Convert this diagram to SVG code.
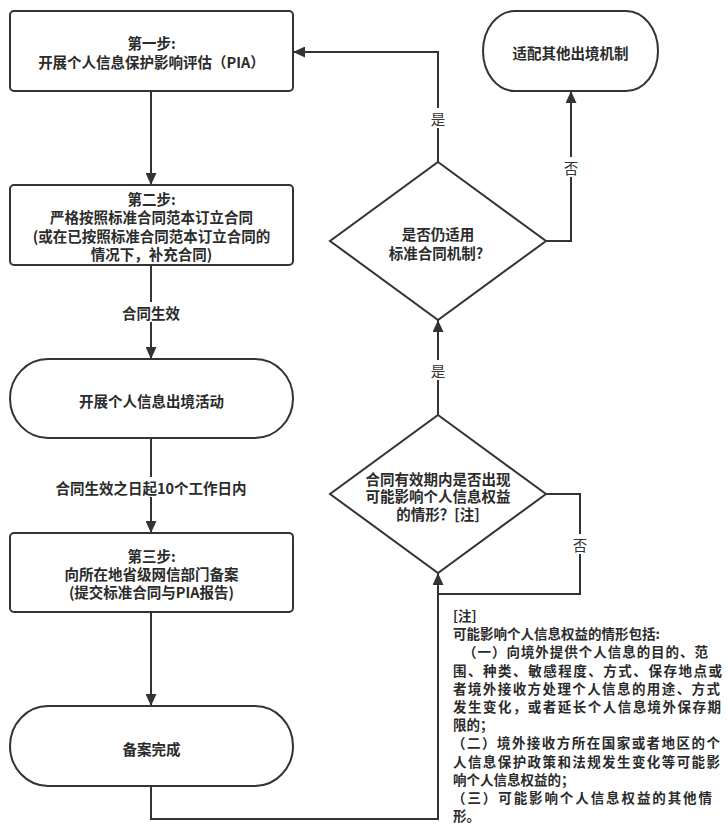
<svg xmlns="http://www.w3.org/2000/svg" width="728" height="829" viewBox="0 0 728 829">
<defs>
<style>
.n{fill:#fff;stroke:#333;stroke-width:2}
.c{fill:none;stroke:#333;stroke-width:2}
.t{font-family:"Noto Sans CJK SC","Microsoft YaHei",sans-serif;font-size:14.5px;font-weight:bold;fill:#2b2b2b;text-anchor:middle;dominant-baseline:central}
.l{font-family:"Noto Sans CJK SC","Microsoft YaHei",sans-serif;font-size:14.5px;font-weight:normal;fill:#333;text-anchor:middle;dominant-baseline:central}
.m{font-family:"Noto Sans CJK SC","Microsoft YaHei",sans-serif;font-size:13.5px;font-weight:bold;fill:#2b2b2b;dominant-baseline:central}
</style>
<marker id="a" viewBox="0 0 12 11" refX="12" refY="5.5" markerWidth="12" markerHeight="11" markerUnits="userSpaceOnUse" orient="auto">
<path d="M0,0 L12,5.5 L0,11 z" fill="#333"/>
</marker>
</defs>
<rect width="728" height="829" fill="#fff"/>

<g id="connectors">
<path class="c" d="M151,91 V185" marker-end="url(#a)"/>
<path class="c" d="M151,265 V359" marker-end="url(#a)"/>
<path class="c" d="M151,438 V533" marker-end="url(#a)"/>
<path class="c" d="M151,612 V706" marker-end="url(#a)"/>
<path class="c" d="M151,786 V819 H438 V573" marker-end="url(#a)"/>
<path class="c" d="M438,415 V320" marker-end="url(#a)"/>
<path class="c" d="M546,494 H580 V594 H438"/>
<path class="c" d="M438,162 V52 H293" marker-end="url(#a)"/>
<path class="c" d="M546,241 H571 V91" marker-end="url(#a)"/>
<rect x="118" y="302" width="66" height="20" fill="#fff"/>
<text class="t" x="151" y="312">合同生效</text>
<rect x="52" y="477" width="199" height="20" fill="#fff"/>
<text class="t" x="151" y="487">合同生效之日起10个工作日内</text>
<rect x="429" y="108" width="18" height="20" fill="#fff"/>
<text class="l" x="438" y="118">是</text>
<rect x="429" y="360" width="18" height="20" fill="#fff"/>
<text class="l" x="438" y="370">是</text>
<rect x="562" y="157" width="18" height="20" fill="#fff"/>
<text class="l" x="571" y="167">否</text>
<rect x="571" y="534" width="18" height="20" fill="#fff"/>
<text class="l" x="580" y="544">否</text>
</g>

<g id="step1">
<rect class="n" x="10" y="11" width="283" height="80" rx="4"/>
<text class="t" x="151.5" y="42.5">第一步:</text>
<text class="t" x="151.5" y="61.5">开展个人信息保护影响评估（PIA）</text>
</g>

<g id="step2">
<rect class="n" x="10" y="185" width="283" height="80" rx="4"/>
<text class="t" x="151.5" y="198.5">第二步:</text>
<text class="t" x="151.5" y="216.8">严格按照标准合同范本订立合同</text>
<text class="t" x="151.5" y="235.1">(或在已按照标准合同范本订立合同的</text>
<text class="t" x="151.5" y="253.4">情况下，补充合同)</text>
</g>

<g id="activity">
<rect class="n" x="10" y="359" width="283" height="79" rx="38" ry="39.5"/>
<text class="t" x="151.5" y="400">开展个人信息出境活动</text>
</g>

<g id="step3">
<rect class="n" x="10" y="533" width="283" height="79" rx="4"/>
<text class="t" x="151.5" y="555">第三步:</text>
<text class="t" x="151.5" y="573.3">向所在地省级网信部门备案</text>
<text class="t" x="151.5" y="591.6">(提交标准合同与PIA报告)</text>
</g>

<g id="done">
<rect class="n" x="10" y="706" width="283" height="80" rx="38" ry="40"/>
<text class="t" x="151.5" y="748">备案完成</text>
</g>

<g id="other">
<rect class="n" x="483" y="11" width="175" height="80" rx="32" ry="40"/>
<text class="t" x="570.5" y="52.5">适配其他出境机制</text>
</g>

<g id="decision1">
<polygon class="n" points="438,162 546,241 438,320 330,241"/>
<text class="t" x="438" y="233">是否仍适用</text>
<text class="t" x="436" y="252">标准合同机制?</text>
</g>

<g id="decision2">
<polygon class="n" points="438,415 546,494 438,573 330,494"/>
<text class="t" x="438" y="478">合同有效期内是否出现</text>
<text class="t" x="438" y="495.5">可能影响个人信息权益</text>
<text class="t" x="438" y="513">的情形？[注]</text>
</g>

<g id="note">
<text class="m" x="453" y="615">[注]</text>
<text class="m" x="453" y="633.2">可能影响个人信息权益的情形包括:</text>
<text class="m" x="463" y="651.4" textLength="245" lengthAdjust="spacing">（一）向境外提供个人信息的目的、范</text>
<text class="m" x="453" y="669.5" textLength="269" lengthAdjust="spacing">围、种类、敏感程度、方式、保存地点或</text>
<text class="m" x="453" y="687.7" textLength="267" lengthAdjust="spacing">者境外接收方处理个人信息的用途、方式</text>
<text class="m" x="453" y="705.9" textLength="268" lengthAdjust="spacing">发生变化，或者延长个人信息境外保存期</text>
<text class="m" x="453" y="724.1">限的；</text>
<text class="m" x="452" y="742.3" textLength="268" lengthAdjust="spacing">（二）境外接收方所在国家或者地区的个</text>
<text class="m" x="453" y="760.5" textLength="267" lengthAdjust="spacing">人信息保护政策和法规发生变化等可能影</text>
<text class="m" x="453" y="778.6">响个人信息权益的；</text>
<text class="m" x="452" y="796.8" textLength="260" lengthAdjust="spacing">（三）可能影响个人信息权益的其他情</text>
<text class="m" x="453" y="815">形。</text>
</g>
</svg>
